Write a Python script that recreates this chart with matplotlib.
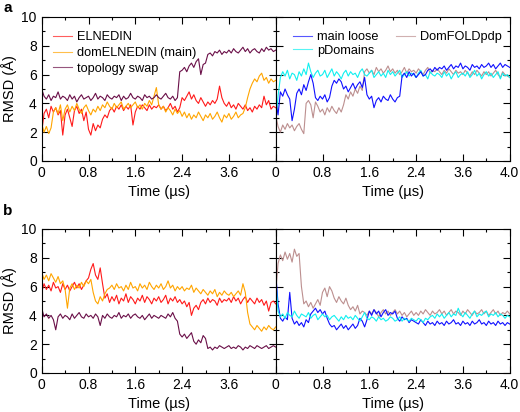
import numpy as np
import matplotlib
matplotlib.use("Agg")
import matplotlib.pyplot as plt
from matplotlib.ticker import FixedLocator, MultipleLocator

plt.rcParams["font.family"] = ["Liberation Sans", "DejaVu Sans"]

# time axis, 0 .. 4.0 us in 0.04 steps
time = np.arange(101) * 0.04

# tick positions and the labels printed under them (as in the original figure)
xtick_pos = [0, 0.8, 1.6, 2.4, 3.2]
xtick_lab = ["0", "0.8", "1.6", "2.4", "3.6"]

# ---- panel a, left
elnedin_a = [2.0, 3.3, 3.6, 3.0, 3.8, 3.4, 3.7, 3.2, 3.5, 1.8,
             3.2, 3.6, 3.0, 2.4, 3.5, 3.8, 3.3, 3.6, 2.8, 3.4,
             2.2, 1.8, 2.6, 2.1, 2.5, 2.3, 2.9, 3.2, 3.0, 3.5,
             3.7, 3.4, 3.8, 3.6, 3.9, 3.5, 3.8, 3.6, 3.9, 2.5,
             3.4, 3.8, 3.6, 3.9, 3.7, 3.5, 3.9, 3.6, 3.8, 3.7,
             3.9, 3.6, 3.8, 3.5, 3.7, 4.0, 3.6, 3.8, 3.4, 3.7,
             4.4, 4.2, 4.5, 4.8, 4.3, 4.6, 4.2, 4.0, 4.4, 4.1,
             3.8, 4.1, 3.9, 4.2, 4.0, 4.3, 5.2, 4.4, 4.0, 3.8,
             4.1, 3.7, 3.9, 3.6, 4.0, 3.8, 3.6, 3.9, 3.5, 3.7,
             3.4, 3.8, 3.6, 3.9, 3.7, 4.5, 3.9, 4.2, 3.6, 3.8,
             3.7]
domelnedin_a = [2.6, 2.0, 2.4, 1.9, 2.3, 3.4, 3.7, 3.3, 3.9, 2.8,
                3.6, 3.9, 3.4, 3.8, 3.5, 4.0, 3.6, 3.3, 3.7, 3.9,
                3.5, 3.2, 3.6, 3.4, 3.8, 3.5, 3.9, 3.7, 4.1, 3.8,
                3.6, 4.0, 3.7, 3.9, 4.1, 3.6, 3.8, 4.0, 3.7, 3.9,
                4.1, 3.7, 3.9, 3.6, 4.0, 3.8, 4.2, 3.9, 4.5, 5.1,
                3.9, 3.6, 3.8, 3.4, 3.7, 3.5, 3.2, 3.6, 3.3, 3.5,
                3.1, 3.4, 3.0, 3.3, 2.9, 3.2, 3.0, 3.4, 3.1, 2.8,
                3.2, 3.0, 3.3, 2.9, 3.1, 3.4, 3.0, 2.7, 3.2, 3.0,
                3.3, 2.9, 3.1, 3.4, 3.0, 3.2, 3.3, 3.7, 4.4, 5.0,
                5.4, 5.7, 5.5, 5.9, 6.1, 5.6, 5.8, 5.4, 5.7, 5.5,
                5.6]
topo_a = [5.0, 4.5, 4.3, 4.6, 4.2, 4.5, 4.4, 4.8, 4.3, 4.5,
          4.4, 4.2, 4.6, 4.3, 4.5, 4.1, 4.4, 4.6, 4.3, 4.4,
          4.5, 4.2, 4.4, 4.7, 4.3, 4.5, 4.4, 4.2, 4.6, 4.4,
          4.3, 4.5, 4.4, 4.6, 4.2, 4.5, 4.3, 4.4, 4.7, 4.4,
          4.3, 4.5, 4.4, 4.2, 4.6, 4.4, 4.5, 4.3, 4.4, 4.6,
          4.4, 4.3, 4.5, 4.7, 4.4, 4.3, 4.5, 4.2, 4.4, 6.2,
          6.3, 6.5, 6.2, 6.6, 6.8, 6.5, 6.9, 7.1, 6.0, 6.7,
          6.8, 7.4, 7.5, 7.3, 7.6, 7.5, 7.7, 7.4, 7.6, 7.5,
          7.7, 7.5, 7.8, 7.6, 7.5, 7.7, 7.9, 7.6, 7.8, 7.5,
          7.7, 7.8, 7.6, 7.5, 7.8, 7.6, 7.9, 7.7, 7.8, 7.6,
          7.7]

# ---- panel a, right
loose_a = [4.2, 3.2, 4.8, 4.5, 5.0, 4.6, 4.3, 2.8, 3.6, 4.7,
           5.0, 4.6, 5.3, 4.9, 5.5, 6.0, 5.4, 4.4, 4.2, 4.5,
           4.3, 4.6, 4.1, 4.4, 5.2, 5.6, 5.4, 5.7, 5.5, 5.0,
           5.2, 4.8, 5.1, 5.4, 5.0, 5.3, 5.5, 5.1, 5.8, 4.6,
           4.3, 4.5, 3.7, 4.2, 4.4, 4.1, 4.5, 4.3, 4.2, 4.6,
           4.3, 4.1, 4.4, 4.5, 5.9, 6.1, 5.8, 6.2, 5.9, 6.1,
           5.8, 6.0, 6.2, 5.9, 6.0, 6.3, 6.4, 6.2, 6.5, 6.3,
           6.5, 6.4, 6.6, 6.3, 6.5, 6.7, 6.4, 6.6, 6.5, 6.8,
           6.4, 6.6, 6.5, 6.3, 6.7, 6.5, 6.6, 6.4, 6.7, 6.5,
           6.6, 6.8, 6.5, 6.7, 6.4, 6.6, 6.8, 6.5, 6.7, 6.6,
           6.5]
pdomains_a = [2.5, 4.5, 5.8, 6.2, 5.9, 6.3, 5.7, 6.1, 6.0, 5.6,
              6.2, 5.9, 6.4, 6.0, 6.8, 6.2, 5.8, 6.1, 6.3, 5.9,
              6.0, 6.3, 5.8, 6.1, 6.4, 5.9, 6.2, 6.0, 5.7, 6.1,
              6.3, 5.9, 6.2, 6.0, 6.1, 5.8, 6.2, 6.4, 6.0, 5.9,
              6.1, 6.3, 5.8, 6.0, 6.2, 5.9, 6.1, 5.8, 6.3, 6.0,
              6.2, 5.9, 6.1, 6.3, 5.8, 6.0, 6.2, 5.9, 6.1, 6.0,
              5.8, 6.1, 6.3, 5.9, 6.0, 5.7, 6.2, 6.0, 5.9, 6.1,
              6.0, 5.8, 6.2, 5.9, 6.1, 5.7, 6.0, 6.2, 5.8, 6.0,
              6.1, 5.9, 6.2, 5.8, 6.0, 6.3, 5.9, 6.1, 5.7, 6.0,
              6.2, 5.9, 6.1, 5.8, 6.0, 6.2, 5.7, 6.1, 5.9, 6.0,
              5.8]
domfold_a = [3.2, 2.4, 2.0, 2.5, 2.2, 2.6, 2.3, 2.5, 2.1, 2.4,
             2.6, 2.2, 1.9, 4.0, 4.2, 3.9, 3.0, 4.1, 3.8, 3.4,
             3.6, 3.2, 3.7, 3.4, 3.8, 3.5, 3.3, 3.7, 3.4, 3.9,
             4.6, 4.3, 4.8, 4.5, 5.0, 4.7, 5.2, 4.9, 6.2, 6.4,
             6.1, 6.3, 6.0, 6.5, 6.2, 6.4, 6.1, 6.3, 6.6, 6.2,
             6.4, 6.1, 6.3, 6.0, 6.2, 6.5, 6.1, 6.4, 6.2, 6.3,
             6.1, 6.4, 6.2, 6.0, 6.3, 6.5, 6.1, 6.3, 6.2, 6.4,
             6.2, 6.0, 6.3, 6.1, 6.4, 6.2, 6.0, 6.3, 6.1, 6.2,
             6.0, 6.3, 6.1, 5.9, 6.2, 6.0, 6.3, 6.1, 5.9, 6.2,
             6.0, 6.2, 5.9, 6.1, 6.3, 6.0, 5.8, 6.2, 6.0, 5.9,
             5.8]

# ---- panel b, left
elnedin_b = [5.6, 6.2, 5.8, 6.1, 5.7, 6.3, 5.9, 6.0, 5.6, 6.2,
             5.8, 6.1, 5.7, 6.0, 6.3, 5.9, 6.2, 5.8, 6.1, 6.4,
             6.6, 7.2, 7.6, 6.8, 6.5, 7.3, 6.2, 5.2, 5.5, 4.9,
             5.3, 5.0, 5.4, 4.8, 5.2, 5.0, 5.5, 4.9, 5.3, 5.1,
             4.8, 5.2, 5.0, 5.4, 4.9, 5.3, 5.1, 4.8, 5.2, 5.0,
             5.3, 4.9, 5.1, 5.4, 4.8, 5.2, 5.0, 5.3, 4.9, 5.1,
             4.8, 5.0, 4.6, 4.9, 4.0, 4.5, 4.7, 4.4, 4.9, 5.1,
             4.8, 5.2, 4.9, 5.1, 5.0, 4.7, 5.2, 4.9, 5.1, 5.0,
             5.2, 4.9, 5.3, 5.0, 5.2, 4.8, 5.1, 5.3, 4.9, 5.2,
             5.0, 4.8, 5.2, 4.9, 5.1, 4.7, 5.0, 4.3, 4.9, 5.0,
             4.8]
domelnedin_b = [7.0, 6.5, 6.8, 6.4, 6.9, 6.6, 6.3, 6.7, 6.2, 6.4,
                5.8, 4.5, 5.9, 6.2, 5.8, 6.1, 5.9, 6.3, 6.0, 6.4,
                6.2, 6.5, 5.6, 5.0, 4.8, 5.3, 5.0, 5.5, 5.8, 5.9,
                6.1, 5.8, 6.2, 5.9, 6.0, 5.7, 6.1, 5.8, 6.3, 5.9,
                6.0, 5.7, 6.2, 5.9, 6.1, 5.8, 6.3, 6.0, 5.8, 6.1,
                5.9, 6.2, 5.8, 6.0, 6.4, 5.9, 6.1, 5.7, 6.0, 5.8,
                6.0, 5.7, 5.9, 5.8, 6.1, 5.6, 5.9, 5.7, 5.5, 5.8,
                5.6, 5.4, 5.7, 5.5, 5.8, 5.3, 5.6, 5.4, 5.7, 5.5,
                5.4, 5.6, 5.3, 5.5, 5.7, 5.4, 6.2, 5.6, 4.2, 3.4,
                3.2, 3.0, 3.3, 3.1, 2.9, 3.2, 3.0, 3.3, 3.1, 3.0,
                3.2]
topo_b = [4.5, 3.9, 4.1, 3.8, 4.0, 3.7, 3.0, 3.9, 4.1, 3.8,
          4.0, 3.9, 3.7, 4.1, 3.8, 4.0, 4.2, 3.9, 3.8, 4.1,
          3.9, 4.0, 3.8, 4.1, 3.9, 3.3, 4.0, 3.8, 4.1, 3.9,
          3.8, 4.0, 3.9, 4.2, 3.8, 4.0, 3.9, 4.1, 3.8, 4.0,
          4.1, 3.9, 3.8, 4.0, 3.7, 3.9, 4.1, 3.8, 4.0, 3.9,
          3.8, 4.0, 3.9, 3.8, 4.1, 3.9, 4.2, 3.8, 3.6, 2.7,
          2.5, 2.7, 2.4, 2.6, 2.8, 2.2, 2.0, 2.3, 2.1, 2.6,
          2.4, 1.7, 1.8, 1.6, 1.8, 1.7, 1.9, 1.8, 1.7, 1.8,
          1.9, 1.7, 1.8, 1.7, 1.9, 1.8, 1.6, 1.8, 1.7, 1.9,
          1.8, 1.7, 1.9, 1.8, 1.7, 1.8, 1.9, 1.7, 1.8, 1.9,
          1.8]

# ---- panel b, right
loose_b = [7.0, 4.8, 3.8, 3.6, 3.9, 3.7, 5.6, 3.8, 3.4, 3.6,
           3.3, 3.5, 3.2, 3.7, 3.5, 4.1, 4.3, 4.5, 4.2, 4.4,
           4.1, 4.3, 3.8, 3.4, 3.2, 3.3, 3.0, 3.2, 3.4, 3.1,
           3.3, 3.0, 3.2, 3.4, 3.1, 3.3, 3.8, 3.6, 3.2, 3.7,
           4.3, 4.0, 4.4, 4.1, 4.3, 3.9, 4.2, 4.4, 4.0, 4.2,
           4.1, 4.3, 3.8, 3.6, 3.9, 3.7, 3.8, 3.5, 3.7, 3.6,
           3.5, 3.4, 3.7, 3.5, 3.3, 3.6, 3.4, 3.5, 3.3, 3.6,
           3.4, 3.5, 3.3, 3.6, 3.4, 3.5, 3.7, 3.4, 3.5, 3.3,
           3.6, 3.4, 3.5, 3.3, 3.6, 3.4, 3.5, 3.7, 3.4, 3.5,
           3.3, 3.6, 3.4, 3.5, 3.3, 3.6, 3.4, 3.5, 3.3, 3.5,
           3.4]
pdomains_b = [6.6, 4.3, 3.9, 4.1, 3.8, 4.2, 4.0, 3.9, 4.3, 4.0,
              3.8, 4.1, 4.0, 3.9, 4.2, 3.8, 4.0, 4.1, 3.7, 3.9,
              4.1, 3.9, 4.0, 3.7, 3.9, 4.0, 3.8, 3.6, 3.9, 3.7,
              4.0, 3.8, 3.9, 3.7, 4.0, 3.8, 3.6, 3.9, 4.2, 3.8,
              3.7, 3.9, 3.8, 3.6, 3.9, 3.7, 3.8, 3.6, 3.7, 3.9,
              3.8, 3.6, 3.7, 3.9, 3.6, 3.8, 3.7, 3.6, 3.8, 3.7,
              3.6, 3.8, 3.7, 3.5, 3.8, 3.7, 3.9, 4.0, 3.8, 4.1,
              3.9, 4.1, 3.8, 4.0, 4.2, 3.9, 4.1, 4.0, 4.5, 4.1,
              3.9, 4.2, 4.0, 3.8, 4.1, 4.3, 3.9, 4.1, 4.0, 4.2,
              4.3, 3.9, 4.1, 4.0, 4.2, 3.9, 4.1, 4.0, 3.8, 4.0,
              3.9]
domfold_b = [5.5, 7.6, 8.2, 7.8, 8.4, 7.9, 8.3, 7.7, 8.6, 8.1,
             8.3, 6.0, 4.8, 5.0, 4.6, 4.9, 4.5, 4.8, 5.1, 4.7,
             5.6, 5.9, 5.3, 6.0, 5.7, 5.2, 4.9, 5.3, 5.0, 4.8,
             5.2, 4.7, 4.4, 4.6, 4.3, 4.7, 4.1, 4.3, 4.2, 4.0,
             4.3, 4.1, 4.4, 4.2, 3.9, 4.2, 4.4, 4.1, 4.3, 4.0,
             4.2, 4.4, 4.1, 4.3, 4.0, 4.2, 3.9, 4.1, 4.3, 4.0,
             4.2, 4.0, 4.3, 4.1, 4.4, 4.2, 4.0, 4.3, 4.1, 4.2,
             4.4, 4.1, 4.3, 4.0, 4.2, 4.4, 4.1, 4.3, 4.2, 4.0,
             4.3, 4.1, 4.4, 4.2, 4.0, 4.3, 4.1, 4.2, 4.4, 4.1,
             4.3, 4.0, 4.2, 4.4, 4.1, 4.3, 4.0, 4.2, 4.1, 4.3,
             4.1]

c_red = "#ff1a1a"
c_orange = "#ffa500"
c_purple = "#6a0f48"
c_blue = "#1010ff"
c_cyan = "#10f0f0"
c_rosy = "#bc8f8f"
lw = 0.8

fig = plt.figure(figsize=(5.2, 4.12), dpi=100)
W, H = 520.0, 412.0
ax_al = fig.add_axes([41.7 / W, 1 - 161 / H, 234 / W, 144 / H])
ax_ar = fig.add_axes([275.7 / W, 1 - 161 / H, 234 / W, 144 / H])
ax_bl = fig.add_axes([41.7 / W, 1 - 373 / H, 234 / W, 144 / H])
ax_br = fig.add_axes([275.7 / W, 1 - 373 / H, 234 / W, 144 / H])

ax_al.plot(time, elnedin_a, color=c_red, lw=lw, label="ELNEDIN")
ax_al.plot(time, domelnedin_a, color=c_orange, lw=lw, label="domELNEDIN (main)")
ax_al.plot(time, topo_a, color=c_purple, lw=lw, label="topology swap")

ax_ar.plot(time, domfold_a, color=c_rosy, lw=lw, label="DomFOLDpdp")
ax_ar.plot(time, pdomains_a, color=c_cyan, lw=lw, label="pDomains")
ax_ar.plot(time, loose_a, color=c_blue, lw=lw, label="main loose")

ax_bl.plot(time, elnedin_b, color=c_red, lw=lw)
ax_bl.plot(time, domelnedin_b, color=c_orange, lw=lw)
ax_bl.plot(time, topo_b, color=c_purple, lw=lw)

ax_br.plot(time, domfold_b, color=c_rosy, lw=lw)
ax_br.plot(time, loose_b, color=c_blue, lw=lw)
ax_br.plot(time, pdomains_b, color=c_cyan, lw=lw)

for ax in [ax_al, ax_ar, ax_bl, ax_br]:
    ax.set_xlim(0, 4.0)
    ax.set_ylim(0, 10)
    ax.yaxis.set_major_locator(MultipleLocator(2))
    ax.yaxis.set_minor_locator(MultipleLocator(1))
    ax.xaxis.set_minor_locator(MultipleLocator(0.4))
    ax.tick_params(which="both", direction="in", top=True, right=True,
                   labelsize=10, width=0.8, pad=3.5)
    ax.tick_params(which="major", length=5)
    ax.tick_params(which="minor", length=2.5)
    for s in ax.spines.values():
        s.set_linewidth(0.8)
    ax.set_xlabel("Time (\u00b5s)", fontsize=10.5, labelpad=4)

for ax in [ax_al, ax_bl]:
    ax.xaxis.set_major_locator(FixedLocator(xtick_pos))
    ax.set_xticklabels(xtick_lab)
    ax.set_ylabel("RMSD (\u00c5)", fontsize=10.5, labelpad=3)

for ax in [ax_ar, ax_br]:
    ax.xaxis.set_major_locator(FixedLocator(xtick_pos + [4.0]))
    ax.set_xticklabels(xtick_lab + ["4.0"])
    ax.tick_params(labelleft=False)

leg = ax_al.legend(loc="upper left", bbox_to_anchor=(0.026, 0.935), frameon=False,
                   fontsize=9.2, handlelength=1.5, handletextpad=0.4,
                   labelspacing=0.28, borderaxespad=0)
for ln in leg.get_lines():
    ln.set_alpha(0.7)
h, l = ax_ar.get_legend_handles_labels()
order = [2, 1, 0]
leg = ax_ar.legend([h[i] for i in order], [l[i] for i in order], loc="upper left",
                   bbox_to_anchor=(0.053, 0.935), ncol=2, frameon=False, fontsize=9.2,
                   handlelength=1.5, handletextpad=0.4, labelspacing=0.1,
                   columnspacing=1.3, borderaxespad=0)
for ln in leg.get_lines():
    ln.set_alpha(0.7)

fig.text(3 / W, 1 - 1 / H, "a", fontsize=11, fontweight="bold", va="top", ha="left")
fig.text(3 / W, 1 - 204 / H, "b", fontsize=11, fontweight="bold", va="top", ha="left")

fig.savefig("out.png", dpi=100)
